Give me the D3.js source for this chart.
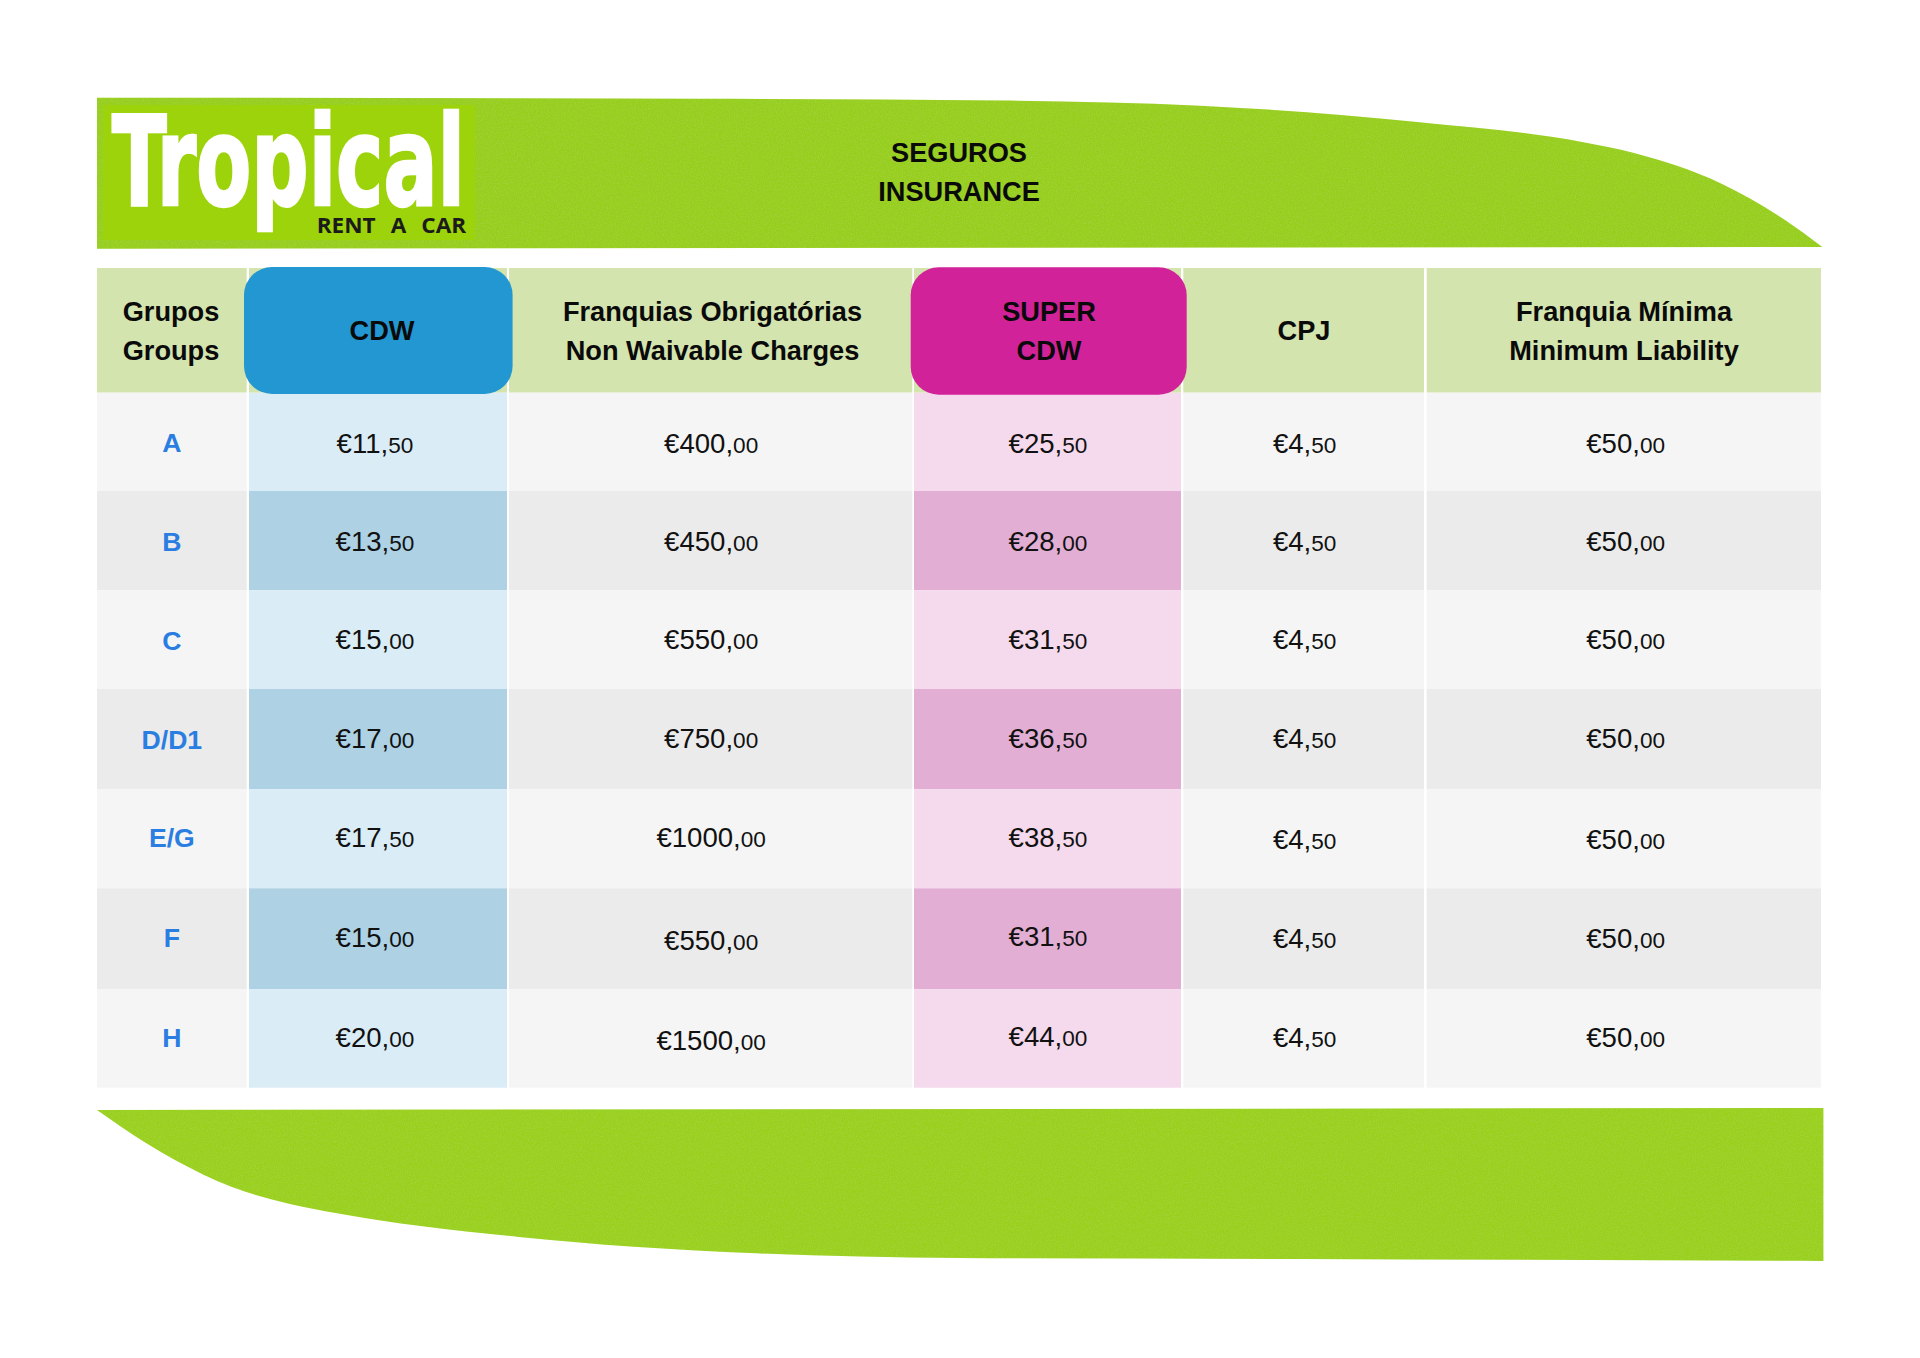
<!DOCTYPE html>
<html>
<head>
<meta charset="utf-8">
<script src="https://cdn.jsdelivr.net/npm/d3@7"></script>
<style>
  html, body { margin: 0; padding: 0; background: #fff; }
  svg { display: block; }
  text { font-family: "Liberation Sans", Arial, sans-serif; }
</style>
</head>
<body>
<div id="chart"></div>
<script>
var groups = ["A", "B", "C", "D/D1", "E/G", "F", "H"];
var cdw = [11.5, 13.5, 15, 17, 17.5, 15, 20];
var franquias = [400, 450, 550, 750, 1000, 550, 1500];
var superCdw = [25.5, 28, 31.5, 36.5, 38.5, 31.5, 44];
var cpj = [4.5, 4.5, 4.5, 4.5, 4.5, 4.5, 4.5];
var franquiaMinima = [50, 50, 50, 50, 50, 50, 50];

var columns = ["grupos", "cdw", "franquias", "super", "cpj", "minima"];
var headerLabels = {
  grupos: ["Grupos", "Groups"],
  cdw: ["CDW"],
  franquias: ["Franquias Obrigatórias", "Non Waivable Charges"],
  super: ["SUPER", "CDW"],
  cpj: ["CPJ"],
  minima: ["Franquia Mínima", "Minimum Liability"]
};
var titleLines = ["SEGUROS", "INSURANCE"];
var logoName = "Tropical";
var logoTag = "RENT A CAR";

var seriesByColumn = { cdw: cdw, franquias: franquias, super: superCdw, cpj: cpj, minima: franquiaMinima };

// layout, measured on the page
var width = 1920, height = 1358;
var colLeft = d3.scaleOrdinal(columns, [97, 249, 509, 914, 1183.3, 1426.7]);
var colRight = d3.scaleOrdinal(columns, [246.7, 507, 912.3, 1181, 1424, 1821]);
var rowTop = d3.scaleOrdinal(groups, [392.7, 491, 590.3, 689, 789.3, 888.3, 989.3]);
var rowBottom = d3.scaleOrdinal(groups, [491, 590.3, 689, 789.3, 888.3, 989.3, 1087.7]);
var baseline = d3.scaleOrdinal(groups, [452.7, 551, 649.3, 748, 846.7, 946.7, 1046.7]);
var labelBaseline = d3.scaleOrdinal(groups, [451.7, 551, 650, 749.3, 847.3, 946.7, 1047.3]);
var headerTop = 268, headerBottom = 392.7;

// the source sets a few cells slightly off the row baseline
var nudgeY = {
  franquias: { "E/G": 0.6, "F": 3.3, "H": 3.3 },
  super: { "F": -0.7, "H": -0.7 },
  cpj: { "E/G": 2.6, "F": 1.6 },
  minima: { "E/G": 2.6, "F": 1.6 }
};
var nudgeX = { cdw: -3, franquias: 0.5, super: 0.5, cpj: 1, minima: 1.8 };

var bandFill = { top: "#96ce1b", bottom: "#99d01d" };
var rowFill = ["#f5f5f5", "#ebebeb"];
var columnFill = {
  cdw: ["#daecf6", "#aed1e4"],
  super: ["#f5d9ec", "#e2aed4"]
};

var svg = d3.select("#chart").append("svg")
    .attr("width", width)
    .attr("height", height);

/*
 * Grain on the green bands
 */
var filter = svg.append("defs").append("filter")
    .attr("id", "grain")
    .attr("x", 0).attr("y", 0).attr("width", "100%").attr("height", "100%");
filter.append("feTurbulence")
    .attr("type", "fractalNoise")
    .attr("baseFrequency", 0.85)
    .attr("numOctaves", 2)
    .attr("seed", 4)
    .attr("result", "noise");
filter.append("feColorMatrix")
    .attr("in", "noise")
    .attr("type", "matrix")
    .attr("values", "0 0 0 0 0.5  0 0 0 0 0.72  0 0 0 0 0.12  0.6 0 0 0 -0.22")
    .attr("result", "speck");
filter.append("feComposite")
    .attr("in", "speck")
    .attr("in2", "SourceAlpha")
    .attr("operator", "in")
    .attr("result", "clipped");
var merge = filter.append("feMerge");
merge.append("feMergeNode").attr("in", "SourceGraphic");
merge.append("feMergeNode").attr("in", "clipped");

/*
 * The two leaf shaped bands
 */
var edge = d3.line().curve(d3.curveMonotoneX);

var topEdge = [[97, 97.7], [700, 98.7], [1000, 100.5], [1200, 105.7], [1417, 122], [1582, 142],
  [1634, 153], [1720, 183], [1785, 220], [1822.3, 247]];
svg.append("path")
    .attr("d", edge(topEdge) + "L97,248.7Z")
    .attr("fill", bandFill.top)
    .attr("filter", "url(#grain)");

var bottomEdge = [[97, 1110], [146, 1143], [175, 1160], [232, 1187], [290, 1204],
  [335.5, 1213], [519, 1237], [749, 1253], [960, 1258], [1300, 1259], [1823.4, 1261]];
svg.append("path")
    .attr("d", edge(bottomEdge) + "L1823.4,1108Z")
    .attr("fill", bandFill.bottom)
    .attr("filter", "url(#grain)");

/*
 * Logo
 */
svg.append("rect")
    .attr("x", 103).attr("y", 105)
    .attr("width", 372).attr("height", 135)
    .attr("fill", "#9dd30b");

svg.append("text")
    .attr("x", 112).attr("y", 205.3)
    .attr("textLength", 353)
    .attr("lengthAdjust", "spacingAndGlyphs")
    .style("font-family", "'DejaVu Sans Condensed', 'DejaVu Sans'")
    .style("font-weight", "bold")
    .style("font-size", "124px")
    .attr("fill", "#fff")
    .attr("stroke", "#fff")
    .attr("stroke-width", 2.5)
    .text(logoName);

svg.append("text")
    .attr("x", 316.7).attr("y", 232.7)
    .attr("textLength", 149.5)
    .attr("lengthAdjust", "spacingAndGlyphs")
    .style("font-family", "'Open Sans'")
    .style("font-weight", "bold")
    .style("font-size", "22px")
    .style("word-spacing", "9px")
    .attr("fill", "#1b1b1b")
    .text(logoTag);

svg.selectAll(".title")
    .data(titleLines)
  .enter().append("text")
    .attr("class", "title")
    .attr("x", 959)
    .attr("y", function(d, i) { return 161.7 + i * 39.3; })
    .attr("text-anchor", "middle")
    .style("font-weight", "bold")
    .style("font-size", "27.2px")
    .attr("fill", "#0a0a0a")
    .text(function(d) { return d; });

/*
 * Table cells
 */
var headerCells = svg.append("g").attr("class", "header-cells");
headerCells.selectAll("rect")
    .data(columns)
  .enter().append("rect")
    .attr("x", function(c) { return colLeft(c); })
    .attr("y", headerTop)
    .attr("width", function(c) { return colRight(c) - colLeft(c); })
    .attr("height", headerBottom - headerTop)
    .attr("fill", "#d4e4ae");

function cellFill(c, i) {
  var odd = i % 2;
  return columnFill[c] ? columnFill[c][odd] : rowFill[odd];
}

var rows = svg.selectAll(".row")
    .data(groups)
  .enter().append("g")
    .attr("class", "row");

rows.selectAll("rect")
    .data(function(g, i) { return columns.map(function(c) { return { c: c, g: g, i: i }; }); })
  .enter().append("rect")
    .attr("x", function(d) { return colLeft(d.c); })
    .attr("y", function(d) { return rowTop(d.g); })
    .attr("width", function(d) { return colRight(d.c) - colLeft(d.c); })
    .attr("height", function(d) { return rowBottom(d.g) - rowTop(d.g); })
    .attr("fill", function(d) { return cellFill(d.c, d.i); });

// group names
rows.append("text")
    .attr("x", (colLeft("grupos") + colRight("grupos")) / 2)
    .attr("y", function(g) { return labelBaseline(g); })
    .attr("text-anchor", "middle")
    .style("font-weight", "bold")
    .style("font-size", "26.6px")
    .attr("fill", "#2a7de1")
    .text(function(g) { return g; });

// prices, the cents are set smaller
var money = d3.format(".2f");
Object.keys(seriesByColumn).forEach(function(c) {
  var cell = rows.append("text")
      .attr("x", (colLeft(c) + colRight(c)) / 2 + nudgeX[c])
      .attr("y", function(g) { return baseline(g) + ((nudgeY[c] || {})[g] || 0); })
      .attr("text-anchor", "middle")
      .attr("fill", "#111");
  cell.append("tspan")
      .style("font-size", "27.6px")
      .text(function(g, i) { return "€" + money(seriesByColumn[c][i]).split(".")[0] + ","; });
  cell.append("tspan")
      .style("font-size", "22.6px")
      .text(function(g, i) { return money(seriesByColumn[c][i]).split(".")[1]; });
});

/*
 * Rounded tabs over the CDW and SUPER CDW headers
 */
svg.append("rect")
    .attr("x", 244).attr("y", 267)
    .attr("width", 268.6).attr("height", 127)
    .attr("rx", 28).attr("ry", 28)
    .attr("fill", "#2397d1");
svg.append("rect")
    .attr("x", 910.7).attr("y", 267.3)
    .attr("width", 276).attr("height", 127.4)
    .attr("rx", 28).attr("ry", 28)
    .attr("fill", "#d2229a");

/*
 * Header labels
 */
var headerX = { grupos: 171, cdw: 382, franquias: 712.5, super: 1049, cpj: 1304, minima: 1624 };
columns.forEach(function(c) {
  var lines = headerLabels[c];
  svg.append("g").selectAll("text")
      .data(lines)
    .enter().append("text")
      .attr("x", headerX[c])
      .attr("y", function(d, i) { return lines.length === 1 ? 340 : 321 + i * 39; })
      .attr("text-anchor", "middle")
      .style("font-weight", "bold")
      .style("font-size", "27.2px")
      .attr("fill", "#0a0a0a")
      .text(function(d) { return d; });
});
</script>
</body>
</html>
